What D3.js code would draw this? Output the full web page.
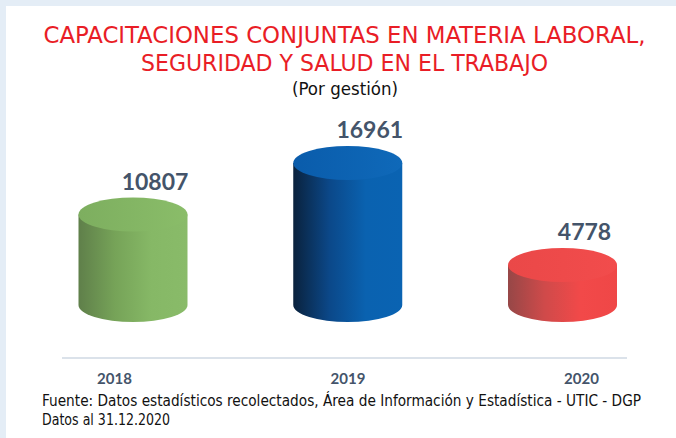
<!DOCTYPE html>
<html>
<head>
<meta charset="utf-8">
<script src="https://cdn.jsdelivr.net/npm/d3@7"></script>
<style>
  body { margin: 0; background: #fff; }
  svg { display: block; }
</style>
</head>
<body>
<script>
// data
const years = ["2018", "2019", "2020"];
const values = [10807, 16961, 4778];
const sideColors = [
    ["#5f7f4a", "#76a358", "#86b866", "#89bb69"],
    ["#0a223d", "#0b4889", "#0a62b0", "#0a63b2"],
    ["#964747", "#cf4a4a", "#f24949", "#ef4747"]
];
const topColors = [
    ["#7dae5f", "#8abd69"],
    ["#0a5cab", "#0f69b9"],
    ["#ea4848", "#f24c4c"]
];
const titleLines = [
    "CAPACITACIONES CONJUNTAS EN MATERIA LABORAL,",
    "SEGURIDAD Y SALUD EN EL TRABAJO"
];
const subtitle = "(Por gestión)";
const sourceLines = [
    "Fuente: Datos estadísticos recolectados, Área de Información y Estadística - UTIC - DGP",
    "Datos al 31.12.2020"
];

const width = 676, height = 438;
const rx = 54.5, ry = 17;

const svg = d3.select("body").append("svg")
    .attr("width", width)
    .attr("height", height);

// faint frame on the left / top edges
svg.append("rect").attr("width", width).attr("height", height).attr("fill", "#e4edf6");
svg.append("rect").attr("x", 6).attr("y", 6)
    .attr("width", width - 6).attr("height", height - 6).attr("fill", "#fff");

const defs = svg.append("defs");

years.forEach((yr, i) => {
    let g = defs.append("linearGradient").attr("id", "side" + i)
        .attr("x1", 0).attr("x2", 1).attr("y1", 0).attr("y2", 0);
    sideColors[i].forEach((c, k) => {
        g.append("stop").attr("offset", k / (sideColors[i].length - 1)).attr("stop-color", c);
    });
    let t = defs.append("linearGradient").attr("id", "top" + i)
        .attr("x1", 0).attr("x2", 1).attr("y1", 0).attr("y2", 0);
    t.append("stop").attr("offset", 0).attr("stop-color", topColors[i][0]);
    t.append("stop").attr("offset", 1).attr("stop-color", topColors[i][1]);
});

// titles
const titleFont = "'Liberation Sans Narrow', 'DejaVu Sans Condensed', 'Liberation Sans', sans-serif";
svg.append("text")
    .attr("x", 344.5).attr("y", 43)
    .attr("text-anchor", "middle")
    .attr("textLength", 602).attr("lengthAdjust", "spacingAndGlyphs")
    .style("font-family", titleFont).style("font-size", "23px")
    .attr("fill", "#e91d26")
    .text(titleLines[0]);
svg.append("text")
    .attr("x", 344.5).attr("y", 70.5)
    .attr("text-anchor", "middle")
    .attr("textLength", 407).attr("lengthAdjust", "spacingAndGlyphs")
    .style("font-family", titleFont).style("font-size", "23px")
    .attr("fill", "#e91d26")
    .text(titleLines[1]);
svg.append("text")
    .attr("x", 345).attr("y", 95)
    .attr("text-anchor", "middle")
    .attr("textLength", 106).attr("lengthAdjust", "spacingAndGlyphs")
    .style("font-family", titleFont).style("font-size", "18px")
    .attr("fill", "#111")
    .text(subtitle);

// scales
const xCyl = d3.scalePoint().domain(years).range([133, 562.5]);
const xLab = d3.scalePoint().domain(years).range([114, 581]);
const y = d3.scaleLinear().domain([0, d3.max(values)]).range([305, 163]);

const data = years.map((yr, i) => ({ year: yr, value: values[i], i: i }));

// baseline
svg.append("line")
    .attr("x1", 62).attr("x2", 627)
    .attr("y1", 358).attr("y2", 358)
    .attr("stroke", "#dbe2ea").attr("stroke-width", 2);

const cyl = svg.selectAll("g.cyl")
    .data(data)
    .enter().append("g")
    .attr("class", "cyl");

cyl.append("path")
    .attr("fill", d => `url(#side${d.i})`)
    .attr("d", d => {
        let cx = xCyl(d.year), top = y(d.value), bot = y(0);
        return `M${cx - rx},${top} L${cx - rx},${bot} A${rx},${ry} 0 0 0 ${cx + rx},${bot} L${cx + rx},${top} Z`;
    });

cyl.append("ellipse")
    .attr("cx", d => xCyl(d.year))
    .attr("cy", d => y(d.value))
    .attr("rx", rx).attr("ry", ry)
    .attr("fill", d => `url(#top${d.i})`);

// value labels
cyl.append("text")
    .attr("x", d => xCyl(d.year) + 22)
    .attr("y", d => y(d.value) - ry - 8)
    .attr("text-anchor", "middle")
    .style("font-family", "Lato, 'Open Sans', sans-serif")
    .style("font-weight", "bold").style("font-size", "23px")
    .attr("fill", "#44546a")
    .text(d => d.value);

// year labels
const xAxis = d3.axisBottom(xLab).tickSize(0).tickPadding(0);
const axisG = svg.append("g")
    .attr("transform", "translate(0,373)")
    .call(xAxis);
axisG.select(".domain").remove();
axisG.selectAll("text")
    .style("font-family", "Lato, 'Open Sans', sans-serif")
    .style("font-weight", "bold").style("font-size", "15px")
    .attr("fill", "#44546a");

// source
svg.append("text")
    .attr("x", 42).attr("y", 406)
    .attr("textLength", 599).attr("lengthAdjust", "spacingAndGlyphs")
    .style("font-family", titleFont).style("font-size", "15px")
    .attr("fill", "#111")
    .text(sourceLines[0]);
svg.append("text")
    .attr("x", 42).attr("y", 425)
    .attr("textLength", 128).attr("lengthAdjust", "spacingAndGlyphs")
    .style("font-family", titleFont).style("font-size", "15px")
    .attr("fill", "#111")
    .text(sourceLines[1]);
</script>
</body>
</html>
